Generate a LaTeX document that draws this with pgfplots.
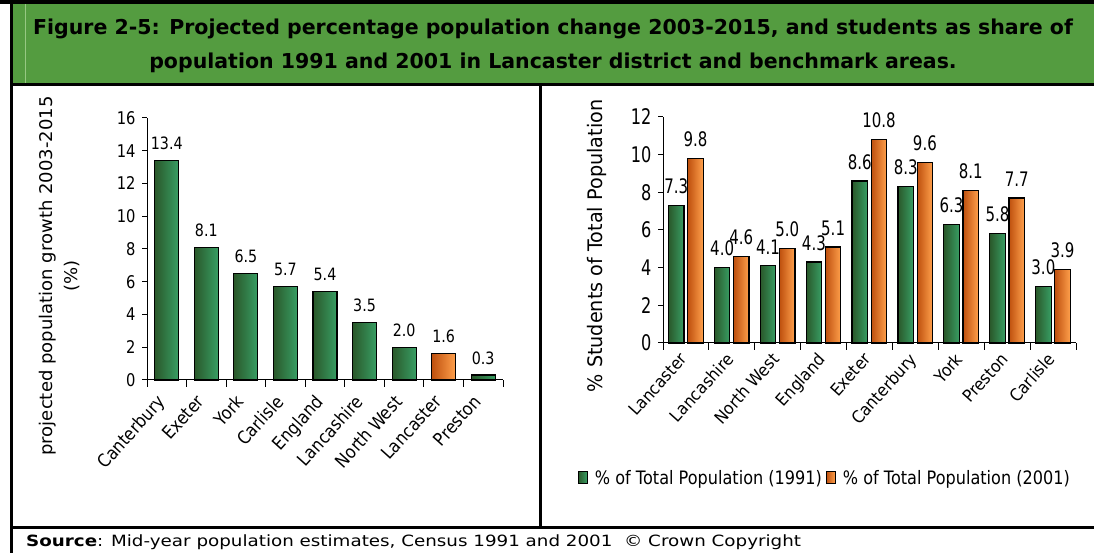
\documentclass[border=0pt]{standalone}
\usepackage{fontspec}
\usepackage{pgfplots}
\pgfplotsset{compat=1.18}
\setmainfont{DejaVu Sans}
\newfontfamily\lfont[FakeStretch=0.84]{DejaVu Sans}
\newfontfamily\ltickfont[FakeStretch=0.89]{DejaVu Sans}
\newfontfamily\rfont[FakeStretch=0.75]{DejaVu Sans}
\newfontfamily\rtickfont[FakeStretch=0.92]{DejaVu Sans}
\newfontfamily\legfont[FakeStretch=0.87]{DejaVu Sans}
\newfontfamily\ylabfont[FakeStretch=1.03]{DejaVu Sans}
\newfontfamily\rylabfont[FakeStretch=0.96]{DejaVu Sans}
\newfontfamily\ttlfont[FakeStretch=1.0]{DejaVu Sans}
\newfontfamily\srcfont[FakeStretch=1.18]{DejaVu Sans}

\definecolor{panelgreen}{RGB}{84,156,64}
\definecolor{panelline}{RGB}{150,200,130}
\definecolor{gdark}{RGB}{42,88,42}
\definecolor{glight}{RGB}{56,158,100}
\definecolor{odark}{RGB}{190,80,14}
\definecolor{olight}{RGB}{255,160,76}

\pgfplotsset{
  greenbar/.style={draw=black, line width=1.2bp, left color=gdark, right color=glight},
  orangebar/.style={draw=black, line width=1.2bp, left color=odark, right color=olight},
  sqlegend/.style={legend image code/.code={%
    \draw[##1, line width=0.8bp] (0bp,-5.5bp) rectangle (9bp,6.5bp);
    \path (14bp,0bp);}},
  only/.style={x filter/.expression={abs(x-#1)<0.1 ? x : nan}},
}

% projected growth 2003-2015 (%)
\pgfplotstableread{
x val
0 13.4
1 8.1
2 6.5
3 5.7
4 5.4
5 3.5
6 2.0
7 1.6
8 0.3
}\growth

% students as % of total population
\pgfplotstableread{
x y1991 y2001
0 7.3 9.8
1 4.0 4.6
2 4.1 5.0
3 4.3 5.1
4 8.6 10.8
5 8.3 9.6
6 6.3 8.1
7 5.8 7.7
8 3.0 3.9
}\students

\begin{document}
\begin{tikzpicture}[x=1bp,y=1bp]
\useasboundingbox (0,0) rectangle (1094,553);

% title band and frame
\fill[panelgreen] (13,549) rectangle (1094,470);
\draw[panelline, line width=1bp] (25,549) -- (25,470);
\fill[black] (0,553) rectangle (1094,549);
\fill[black] (10,470) rectangle (1094,467);
\fill[black] (10,553) rectangle (13,0);
\fill[black] (539,467) rectangle (541.5,27);
\fill[black] (10,27) rectangle (1094,24);

\node[anchor=base, inner sep=0] at (553,518)
  {\ttlfont\fontsize{20.5bp}{24bp}\selectfont\bfseries Figure 2-5: Projected percentage population change 2003-2015, and students as share of};
\node[anchor=base, inner sep=0] at (553,484)
  {\ttlfont\fontsize{20.5bp}{24bp}\selectfont\bfseries population 1991 and 2001 in Lancaster district and benchmark areas.};

\node[anchor=base west, inner sep=0] at (26,6)
  {\srcfont\fontsize{15.5bp}{18bp}\selectfont\textbf{Source}: Mid-year population estimates, Census 1991 and 2001 \ \textcopyright{} Crown Copyright};

% axis titles
\node[rotate=90, inner sep=0] at (48,277)
  {\ylabfont\fontsize{17.5bp}{20bp}\selectfont projected population growth 2003-2015};
\node[rotate=90, inner sep=0] at (72,277)
  {\ylabfont\fontsize{17.5bp}{20bp}\selectfont (\%)};
\node[rotate=90, inner sep=0] at (597,307)
  {\rylabfont\fontsize{20bp}{24bp}\selectfont \% Students of Total Population};

% left panel
\begin{axis}[
  at={(147bp,173bp)}, anchor=south west,
  scale only axis, width=356bp, height=262bp,
  xmin=-0.5, xmax=8.5, ymin=0, ymax=16,
  axis lines*=left, axis line style={-, line width=1bp},
  ytick={0,2,...,16},
  tick align=outside, major tick length=5bp, minor tick length=7bp,
  every tick/.style={black, line width=1bp},
  xtick={0,...,8}, major x tick style={draw=none},
  minor xtick={-0.5,0.5,...,8.5},
  xticklabels={Canterbury,Exeter,York,Carlisle,England,Lancashire,North West,Lancaster,Preston},
  xticklabel style={xshift=-11bp, yshift=-7bp, rotate=48, anchor=north east, inner sep=1bp, font=\ltickfont\fontsize{18bp}{19bp}\selectfont},
  yticklabel style={font=\lfont\fontsize{17.5bp}{18bp}\selectfont, xshift=-3bp},
  /pgf/number format/assume math mode=true,
  ybar, bar width=24bp,
  nodes near coords={\pgfmathprintnumber[fixed,fixed zerofill,precision=1]{\pgfplotspointmeta}},
  every node near coord/.append style={font=\lfont\fontsize{17bp}{18bp}\selectfont, anchor=south, inner sep=0, yshift=10bp, black},
  clip=false,
]
\pgfplotsinvokeforeach{0,1,2,3,4,5,6,8}{
  \addplot[greenbar, bar shift=0pt, only=#1] table[x=x, y=val] {\growth};
}
\addplot[orangebar, bar shift=0pt, only=7] table[x=x, y=val] {\growth};
\end{axis}

% right panel
\begin{axis}[
  at={(663bp,210bp)}, anchor=south west,
  scale only axis, width=413bp, height=226bp,
  xmin=-0.5, xmax=8.5, ymin=0, ymax=12,
  axis lines*=left, axis line style={-, line width=1bp},
  ytick={0,2,...,12},
  tick align=outside, major tick length=5bp, minor tick length=7bp,
  every tick/.style={black, line width=1bp},
  xtick={0,...,8}, major x tick style={draw=none},
  minor xtick={-0.5,0.5,...,8.5},
  xticklabels={Lancaster,Lancashire,North West,England,Exeter,Canterbury,York,Preston,Carlisle},
  xticklabel style={xshift=-7bp, yshift=-2bp, rotate=48, anchor=north east, inner sep=1bp, font=\rtickfont\fontsize{17bp}{18bp}\selectfont},
  yticklabel style={font=\rfont\fontsize{21.5bp}{22bp}\selectfont, xshift=-3bp},
  /pgf/number format/assume math mode=true,
  ybar, bar width=15.5bp,
  nodes near coords={\pgfmathprintnumber[fixed,fixed zerofill,precision=1]{\pgfplotspointmeta}},
  every node near coord/.append style={font=\rfont\fontsize{20bp}{22bp}\selectfont, anchor=south, inner sep=0, yshift=11bp, black},
  clip=false,
  legend columns=2,
  legend style={draw=none, fill=none, at={(0.392,-0.597)}, anchor=center,
    font=\legfont\fontsize{18.5bp}{20bp}\selectfont,
    /tikz/every even column/.append style={column sep=2bp}},
  legend cell align=left,
]
\pgfplotsinvokeforeach{0,...,8}{
  \addplot[greenbar, bar shift=-9.7bp, only=#1, forget plot] table[x=x, y=y1991] {\students};
  \addplot[orangebar, bar shift=9.5bp, only=#1, forget plot] table[x=x, y=y2001] {\students};
}
\addlegendimage{greenbar, sqlegend}
\addlegendentry{\% of Total Population (1991)}
\addlegendimage{orangebar, sqlegend}
\addlegendentry{\% of Total Population (2001)}
\end{axis}
\end{tikzpicture}
\end{document}
